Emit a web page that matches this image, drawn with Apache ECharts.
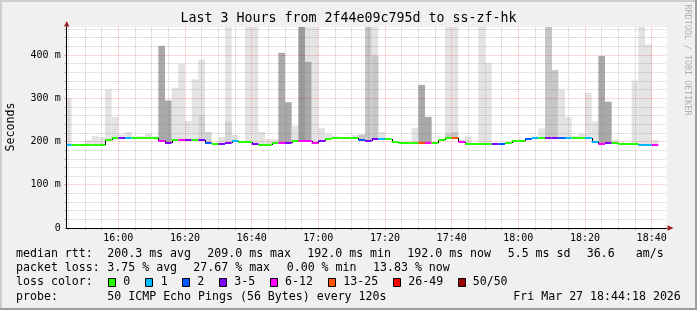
<!DOCTYPE html>
<html><head><meta charset="utf-8">
<script src="https://cdn.jsdelivr.net/npm/echarts@6/dist/echarts.min.js"></script>
<style>html,body{margin:0;padding:0;background:#f0f0f0}#c{width:697px;height:310px}</style>
</head><body><div id="c"></div><script>
// ---------------- data ----------------
// bins are 2 minutes long, first bin starts 15:44 (minutes of day 944)
const firstBinMinute = 944;
const binMinutes = 2;
// median rtt per bin (ms)
const medianRtt = [
192.5,192,192,192,192,192,203,207,207,207,
207,207,207,207,200,197,203,204,204,204,
204,196.5,193.5,194,197,200,198,198,194,192,
192,197,197,197,200,200,200,197,200,205,
207,207,207,207,203.5,202,205,206,206,199,
196.5,196.5,196.5,196.5,196.5,196.5,203.5,207,207,199,
194,194,194,194,194,194,197,200,200,206,
209,209,209,209,209,209,209,209,209,199,
194,196,196,194,194,194,192,192,192
];
// lost pings (of 50) per bin
const lossPings = [
1,0,0,0,0,0,0,0,3,1,
0,0,0,0,6,3,0,6,3,0,
3,2,0,3,3,1,0,0,3,0,
0,0,6,3,0,6,6,6,3,0,
0,0,0,0,2,3,3,1,0,0,
0,0,0,14,6,0,0,0,14,6,
0,0,0,0,3,2,0,0,0,2,
1,0,3,3,2,1,0,0,1,1,
6,3,0,0,0,0,1,1,7
];
// highest ping of the smoke per bin (ms), 0 = no smoke
const smokeTop = [
299,0,0,203,213,210,320,257,216,222,
212,212,218,212,421,295,324,380,247,344,
389,222,0,210,465,215,0,465,465,222,
205,205,405,291,236,465,465,465,231,218,
212,210,210,215,216,465,465,222,0,0,
0,0,231,331,257,0,0,465,465,203,
212,0,465,382,0,0,0,0,0,208,
212,230,465,365,320,257,213,218,313,246,
398,292,204,0,0,341,465,424,204
];
// smoke density level of the outer band (1 sparse .. 5 dense)
const topDensity = [
1,0,0,1,1,1,1,1,1,1,
1,1,1,1,4,4,1,1,1,1,
1,2,0,1,1,1,0,1,1,1,
1,1,4,4,1,5,1,1,1,1,
1,1,1,1,3,3,1,1,0,0,
0,0,1,4,4,0,0,1,1,3,
1,0,1,1,0,0,0,0,0,1,
1,1,3,3,1,1,1,1,1,1,
4,4,1,0,0,1,1,1,1
];
// top of the denser inner smoke band (ms), 0 = none
const smokeCore = [
0,0,0,0,0,0,0,0,0,0,
0,0,0,0,0,0,0,0,0,0,
261,0,0,0,246,0,0,0,0,0,
0,0,0,0,0,0,384,0,0,0,
0,0,0,0,0,0,399,0,0,0,
0,0,0,0,0,0,0,218,222,0,
0,0,0,0,0,0,0,0,0,0,
0,0,0,0,0,0,0,0,0,0,
0,0,0,0,0,0,0,0,0
];
const coreDensity = [
0,0,0,0,0,0,0,0,0,0,
0,0,0,0,0,0,0,0,0,0,
2,0,0,0,2,0,0,0,0,0,
0,0,0,0,0,0,4,0,0,0,
0,0,0,0,0,0,3,0,0,0,
0,0,0,0,0,0,0,3,3,0,
0,0,0,0,0,0,0,0,0,0,
0,0,0,0,0,0,0,0,0,0,
0,0,0,0,0,0,0,0,0
];
const lossLabels = ['0','1','2','3-5','6-12','13-25','26-49','50/50'];
const lossFrom   = [0,1,2,3,6,13,26,50];
const titleText = 'Last 3 Hours from 2f44e09c795d to ss-zf-hk';
const statsRtt  = ['200.3 ms avg','209.0 ms max','192.0 ms min','192.0 ms now','5.5 ms sd','36.6','am/s'];
const statsLoss = ['3.75 % avg','27.67 % max','0.00 % min','13.83 % now'];
const probeText = '50 ICMP Echo Pings (56 Bytes) every 120s';
const dateText  = 'Fri Mar 27 18:44:18 2026';

// ---------------- styles / layout ----------------
const lossColors = ['#26ff00','#00b8ff','#0059ff','#7e00ff','#ff00ff','#ff5500','#ff0000','#a10000'];
const densityColors = {1:'#e3e3e3',2:'#d4d4d4',3:'#c6c6c6',4:'#a9a9a9',5:'#9a9a9a'};
const W=697,H=310;
const plotLeft=66.67, plotRight=666.67, plotTop=27, plotBottom=228;
const xMin=944.5, xMax=1124.5, yMax=464.7;
const pxPerMin=(plotRight-plotLeft)/(xMax-xMin);
const gridLineTop = plotBottom-(plotBottom-plotTop)*460/yMax;
const mono='"DejaVu Sans Mono"';
function lossColor(n){let c=lossColors[0];for(let k=0;k<lossFrom.length;k++){if(n>=lossFrom[k])c=lossColors[k];}return c;}
function hhmm(v){const h=Math.floor(v/60),m=Math.round(v%60);return String(h).padStart(2,'0')+':'+String(m).padStart(2,'0');}

const smokeData = medianRtt.map((m,i)=>[firstBinMinute+binMinutes*i, firstBinMinute+binMinutes*(i+1), m, smokeCore[i], coreDensity[i], smokeTop[i], topDensity[i]]);
const medianData = medianRtt.map((m,i)=>[firstBinMinute+binMinutes*i, firstBinMinute+binMinutes*(i+1), m, i>0?medianRtt[i-1]:m, lossPings[i]]);

function renderSmoke(params, api){
  const x0=api.value(0), x1=api.value(1), base=api.value(2);
  const core=api.value(3), coreLvl=api.value(4), top=api.value(5), topLvl=api.value(6);
  const ch=[];
  if(top>base){
    const a=api.coord([x0,top]), b=api.coord([x1,base]);
    ch.push({type:'rect',shape:{x:a[0],y:a[1],width:b[0]-a[0],height:b[1]-a[1]},style:{fill:densityColors[topLvl]}});
  }
  if(core>base){
    const a=api.coord([x0,core]), b=api.coord([x1,base]);
    ch.push({type:'rect',shape:{x:a[0],y:a[1],width:b[0]-a[0],height:b[1]-a[1]},style:{fill:densityColors[coreLvl]}});
  }
  return {type:'group',children:ch};
}
function renderMedian(params, api){
  const x0=api.value(0), x1=api.value(1), m=api.value(2), prev=api.value(3), loss=api.value(4);
  const a=api.coord([x0,m]), b=api.coord([x1,m]);
  const y=Math.round(a[1]);
  const ch=[];
  if(prev!==m && params.dataIndex>0){
    const p=api.coord([x0,prev]);
    const xv=Math.round(a[0])+0.5;
    ch.push({type:'line',shape:{x1:xv,y1:Math.round(p[1]),x2:xv,y2:y},style:{stroke:'#000',lineWidth:1}});
  }
  ch.push({type:'line',shape:{x1:a[0],y1:y,x2:b[0],y2:y},style:{stroke:lossColor(loss),lineWidth:2}});
  return {type:'group',children:ch};
}

// ---------------- graphics (texts / frame) ----------------
const graphic=[];
graphic.push({type:'rect',shape:{x:0,y:0,width:W,height:2},style:{fill:'#cfcfcf'},silent:true});
graphic.push({type:'rect',shape:{x:0,y:0,width:2,height:H},style:{fill:'#cfcfcf'},silent:true});
graphic.push({type:'rect',shape:{x:0,y:H-2,width:W,height:2},style:{fill:'#9e9e9e'},silent:true});
graphic.push({type:'rect',shape:{x:W-2,y:0,width:2,height:H},style:{fill:'#9e9e9e'},silent:true});
graphic.push({type:'polygon',shape:{points:[[64,26.5],[69.4,26.5],[66.7,21]]},style:{fill:'#9b1c1c'},z:10});
graphic.push({type:'polygon',shape:{points:[[667.5,225.3],[667.5,230.7],[673.5,228]]},style:{fill:'#9b1c1c'},z:10});
function txt(x,y,s,size){return {type:'text',x:x,y:y,z:10,style:{text:s,font:size+'px '+mono,fill:'#000',align:'left',verticalAlign:'middle'}};}
graphic.push({type:'text',x:348.5,y:19,z:10,style:{text:titleText,font:'13.3px '+mono,fill:'#000',align:'center',verticalAlign:'middle'}});
graphic.push({type:'text',x:11,y:127,rotation:Math.PI/2,style:{text:'Seconds',font:'11.6px '+mono,fill:'#000',align:'center',verticalAlign:'middle'}});
graphic.push({type:'text',x:687.5,y:60,rotation:-Math.PI/2,style:{text:'RRDTOOL / TOBI OETIKER',font:'8.4px '+mono,fill:'#b0b0b0',align:'center',verticalAlign:'middle'}});
const LF=11.6;
const r1=254.3,r2=268.3,r3=282,r4=296.7;
graphic.push(txt(16,r1,'median rtt:',LF));
[107.3,207.3,307.3,407.3,507.7,586.7,635.7].forEach((x,k)=>graphic.push(txt(x,r1,statsRtt[k],LF)));
graphic.push(txt(16,r2,'packet loss:',LF));
[107.3,193.3,286.7,373].forEach((x,k)=>graphic.push(txt(x,r2,statsLoss[k],LF)));
graphic.push(txt(16,r3,'loss color:',LF));
const boxX=[108.5,145.5,182.5,219.5,270.5,328.5,393.5,458.5];
const labX=[123.3,160.7,197.3,234.3,285,343.3,408.3,472.7];
lossLabels.forEach((l,k)=>{
  graphic.push({type:'rect',z:10,shape:{x:boxX[k],y:278.5,width:7,height:8},style:{fill:lossColors[k],stroke:'#000',lineWidth:1}});
  graphic.push(txt(labX[k],r3,l,LF));
});
graphic.push(txt(16,r4,'probe:',LF));
graphic.push(txt(107.3,r4,probeText,LF));
graphic.push(txt(513.3,r4,dateText,LF));

const minorC='rgba(128,128,128,0.4)', majorC='rgba(255,0,0,0.3)';
const option={
  animation:false,
  backgroundColor:'#f0f0f0',
  grid:[
    {left:plotLeft,right:W-plotRight,top:plotTop,bottom:H-plotBottom,show:true,backgroundColor:'#ffffff',borderWidth:0},
    {left:plotLeft,right:W-plotRight,top:gridLineTop,bottom:H-plotBottom},
    {left:plotLeft+(945-xMin)*pxPerMin,right:W-plotRight,top:plotTop,bottom:H-plotBottom}
  ],
  xAxis:[
    {gridIndex:0,type:'value',min:xMin,max:xMax,axisLine:{show:true,lineStyle:{color:'#000',width:1}},axisTick:{show:false},axisLabel:{show:false},splitLine:{show:false},z:6},
    {gridIndex:1,type:'value',min:xMin,max:xMax,show:false},
    {gridIndex:2,type:'value',min:945,max:xMax,interval:5,z:3,
      axisLine:{show:false},
      axisTick:{show:true,length:2,lineStyle:{color:'#999'}},
      axisLabel:{show:true,margin:5,fontFamily:'DejaVu Sans Mono',fontSize:10,color:'#000',showMaxLabel:false,
        formatter:v=>(Math.abs(v%20)<1e-6?hhmm(v):'')},
      splitLine:{show:true,showMaxLine:false,lineStyle:{color:[minorC,minorC,minorC,majorC],type:[1,1],width:1}}}
  ],
  yAxis:[
    {gridIndex:0,type:'value',min:0,max:yMax,axisLine:{show:true,lineStyle:{color:'#000',width:1}},axisTick:{show:false},axisLabel:{show:false},splitLine:{show:false},z:6},
    {gridIndex:1,type:'value',min:0,max:460,interval:20,z:3,
      axisLine:{show:false},
      axisTick:{show:true,length:2,lineStyle:{color:'#999'}},
      axisLabel:{show:true,margin:6,fontFamily:'DejaVu Sans Mono',fontSize:10,color:'#000',
        formatter:v=>(v%100===0?(v===0?'0':v+' m'):'')},
      splitLine:{show:true,lineStyle:{color:[majorC,minorC,minorC,minorC,minorC],type:[1,1],width:1}}},
    {gridIndex:2,type:'value',min:0,max:yMax,show:false}
  ],
  series:[
    {type:'custom',name:'smoke',xAxisIndex:0,yAxisIndex:0,z:1,clip:true,renderItem:renderSmoke,data:smokeData,encode:{x:[0,1],y:[2,5]},silent:true},
    {type:'custom',name:'median',xAxisIndex:0,yAxisIndex:0,z:5,clip:true,renderItem:renderMedian,data:medianData,encode:{x:[0,1],y:[2,3]},silent:true}
  ],
  graphic:graphic
};
const chart=echarts.init(document.getElementById('c'),null,{renderer:'canvas'});
chart.setOption(option);
</script></body></html>
